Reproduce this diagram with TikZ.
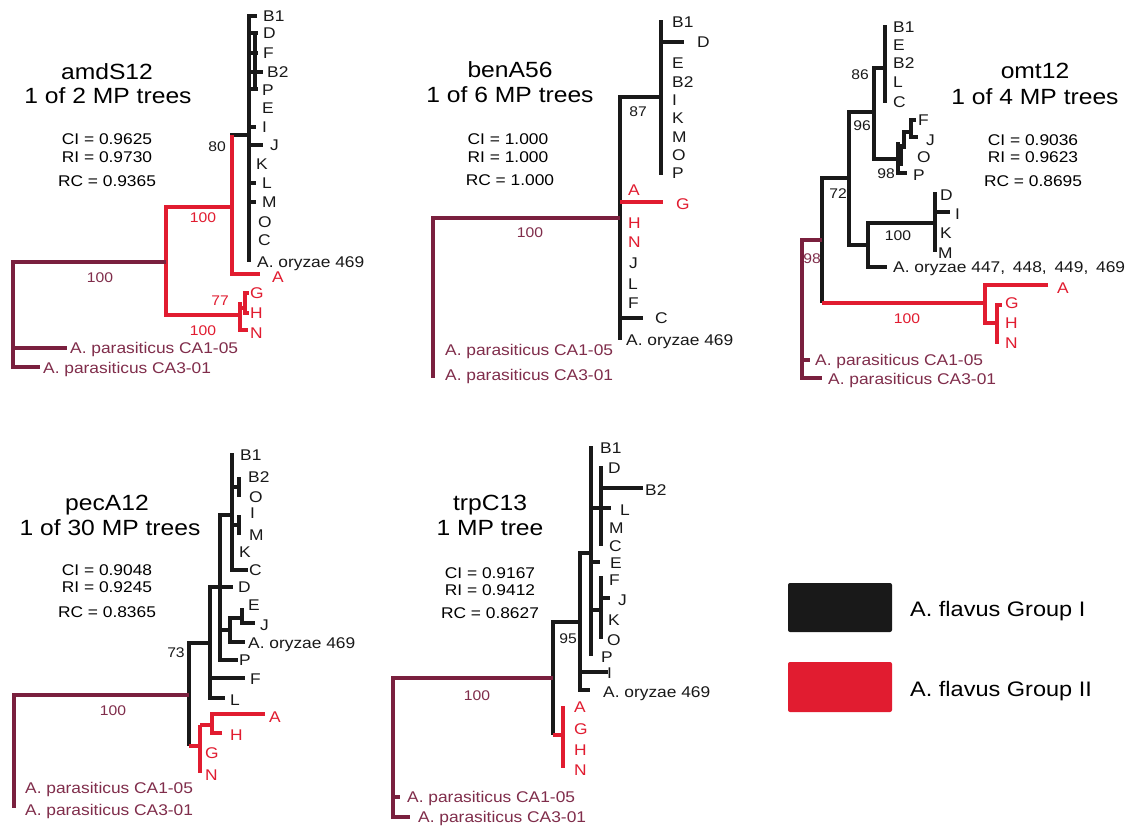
\documentclass[tikz,border=0pt]{standalone}
\usepackage{fontspec}
\setmainfont{Liberation Sans}[FakeStretch=1.12]
\definecolor{tb}{RGB}{25,25,25}
\definecolor{gr}{RGB}{225,28,48}
\definecolor{mr}{RGB}{122,32,62}
\definecolor{mrt}{RGB}{128,45,75}
\newcommand\leafsz{\fontsize{15.5}{18}\selectfont}
\newcommand\bootsz{\fontsize{14}{16}\selectfont}
\newcommand\titlesz{\fontsize{22}{26}\selectfont}
\newcommand\legsz{\fontsize{21}{25}\selectfont}
\tikzset{
 bk/.style={draw=tb,line width=4pt},
 rd/.style={draw=gr,line width=4pt},
 mo/.style={draw=mr,line width=4.5pt},
 lf/.style={anchor=west,inner sep=0pt,text height=11pt,text depth=0pt,font=\leafsz,text=tb},
 lr/.style={lf,text=gr},
 lm/.style={lf,text=mrt},
 bs/.style={inner sep=0pt,text height=10pt,text depth=0pt,font=\bootsz,text=tb},
 bsr/.style={bs,text=gr},
 bsm/.style={bs,text=mrt},
 ttl/.style={inner sep=0pt,text height=15.8pt,text depth=0pt,font=\titlesz,text=black},
 st/.style={inner sep=0pt,text height=11pt,text depth=0pt,font=\leafsz,text=black},
 leg/.style={anchor=west,inner sep=0pt,text height=15pt,text depth=0pt,font=\legsz,text=black},
}
\begin{document}
\begin{tikzpicture}[x=1pt,y=-1pt,line join=miter]
\fill[white] (0,0) rectangle (1127,825);
\useasboundingbox (0,0) rectangle (1127,825);

% ================= Tree 1: amdS12 =================
\node[ttl] (t1t) at (107,72) {amdS12};
\node[ttl] (t1s) at (108,96) {1 of 2 MP trees};
\node[st] (t1ci) at (107,139) {CI = 0.9625};
\node[st] (t1ri) at (107,157) {RI = 0.9730};
\node[st] (t1rc) at (107,181) {RC = 0.9365};
\draw[bk] (257,16) -- (249,16) -- (249,262);
\draw[bk] (255,31) -- (255,90);
\draw[bk] (249,33) -- (258,33) (249,53) -- (258,53) (249,72) -- (263,72) (249,89) -- (258,89);
\draw[bk] (249,127) -- (256,127) (249,145) -- (263,145) (249,183) -- (256,183) (249,202) -- (256,202);
\draw[bk] (249,135) -- (230,135);
\draw[rd] (232,135) -- (232,274) -- (260,274);
\draw[rd] (232,207) -- (166,207) -- (166,315) -- (240,315);
\draw[rd] (240,302) -- (240,330) -- (248,330);
\draw[rd] (240,308) -- (245,308);
\draw[rd] (245,291) -- (245,315);
\draw[rd] (245,293) -- (249,293) (245,313) -- (249,313);
\draw[mo] (166,262) -- (13,262) -- (13,367) -- (40,367);
\draw[mo] (13,348) -- (67,348);
\node[lf] (t1B1) at (263,16) {B1};
\node[lf] (t1D) at (263,33) {D};
\node[lf] (t1F) at (263,53) {F};
\node[lf] (t1B2) at (267,72) {B2};
\node[lf] (t1P) at (262,90) {P};
\node[lf] (t1E) at (262,108) {E};
\node[lf] (t1I) at (262,127) {I};
\node[lf] (t1J) at (270,145) {J};
\node[lf] (t1K) at (256,164) {K};
\node[lf] (t1L) at (262,183) {L};
\node[lf] (t1M) at (262,202) {M};
\node[lf] (t1O) at (258,222) {O};
\node[lf] (t1C) at (258,240) {C};
\node[lf] (t1ory) at (257,262) {A. oryzae 469};
\node[lr] (t1A) at (272,277) {A};
\node[lr] (t1G) at (250,293) {G};
\node[lr] (t1H) at (250,313) {H};
\node[lr] (t1N) at (250,333) {N};
\node[lm] (t1p1) at (70,348) {A. parasiticus CA1-05};
\node[lm] (t1p3) at (43,368) {A. parasiticus CA3-01};
\node[bs] (t1b80) at (217,146) {80};
\node[bsr] (t1b100a) at (203,217) {100};
\node[bsr] (t1b77) at (220,300) {77};
\node[bsr] (t1b100b) at (203,330) {100};
\node[bsm] (t1b100c) at (100,277) {100};

% ================= Tree 2: benA56 =================
\node[ttl] (t2t) at (510,70) {benA56};
\node[ttl] (t2s) at (510,95) {1 of 6 MP trees};
\node[st] (t2ci) at (508,139) {CI = 1.000};
\node[st] (t2ri) at (508,157) {RI = 1.000};
\node[st] (t2rc) at (510,180) {RC = 1.000};
\draw[bk] (661,20) -- (661,175);
\draw[bk] (661,42) -- (684,42);
\draw[bk] (661,97) -- (620,97) -- (620,340);
\draw[bk] (620,318) -- (643,318);
\draw[rd] (620,202) -- (663,202);
\draw[mo] (620,218) -- (433,218) -- (433,378);
\node[lf] (t2B1) at (672,22) {B1};
\node[lf] (t2D) at (697,42) {D};
\node[lf] (t2E) at (672,63) {E};
\node[lf] (t2B2) at (672,82) {B2};
\node[lf] (t2I) at (672,100) {I};
\node[lf] (t2K) at (672,118) {K};
\node[lf] (t2M) at (672,137) {M};
\node[lf] (t2O) at (672,155) {O};
\node[lf] (t2P) at (672,173) {P};
\node[lr] (t2A) at (628,190) {A};
\node[lr] (t2G) at (676,204) {G};
\node[lr] (t2H) at (628,223) {H};
\node[lr] (t2N) at (628,242) {N};
\node[lf] (t2J) at (629,263) {J};
\node[lf] (t2L) at (628,284) {L};
\node[lf] (t2F) at (628,303) {F};
\node[lf] (t2C) at (655,318) {C};
\node[lf] (t2ory) at (626,340) {A. oryzae 469};
\node[lm] (t2p1) at (445,350) {A. parasiticus CA1-05};
\node[lm] (t2p3) at (445,375) {A. parasiticus CA3-01};
\node[bs] (t2b87) at (638,111) {87};
\node[bsm] (t2b100) at (530,232) {100};

% ================= Tree 3: omt12 =================
\node[ttl] (t3t) at (1035,71) {omt12};
\node[ttl] (t3s) at (1035,97) {1 of 4 MP trees};
\node[st] (t3ci) at (1033,140) {CI = 0.9036};
\node[st] (t3ri) at (1033,157) {RI = 0.9623};
\node[st] (t3rc) at (1033,181) {RC = 0.8695};
\draw[bk] (885,25) -- (885,103);
\draw[bk] (885,68) -- (874,68) -- (874,159) -- (898,159);
\draw[bk] (898,142) -- (898,173) -- (907,173);
\draw[bk] (901,144) -- (901,166);
\draw[bk] (898,147) -- (904,147) -- (904,132) -- (911,132);
\draw[bk] (916,120) -- (911,120) -- (911,137) -- (918,137);
\draw[bk] (874,112) -- (849,112) -- (849,245) -- (868,245);
\draw[bk] (935,223) -- (868,223) -- (868,267) -- (887,267);
\draw[bk] (935,192) -- (935,252);
\draw[bk] (935,212) -- (950,212);
\draw[bk] (849,178) -- (822,178) -- (822,303);
\draw[rd] (822,303) -- (985,303);
\draw[rd] (1048,285) -- (985,285) -- (985,323) -- (997,323);
\draw[rd] (997,303) -- (997,344);
\draw[rd] (997,305) -- (1002,305);
\draw[mo] (822,240) -- (802,240) -- (802,378) -- (822,378);
\draw[mo] (802,360) -- (810,360);
\node[lf] (t3B1) at (893,27) {B1};
\node[lf] (t3E) at (893,45) {E};
\node[lf] (t3B2) at (893,63) {B2};
\node[lf] (t3L) at (893,82) {L};
\node[lf] (t3C) at (893,102) {C};
\node[lf] (t3F) at (918,120) {F};
\node[lf] (t3J) at (926,140) {J};
\node[lf] (t3O) at (917,157) {O};
\node[lf] (t3P) at (913,175) {P};
\node[lf] (t3D) at (940,195) {D};
\node[lf] (t3I) at (955,214) {I};
\node[lf] (t3K) at (940,233) {K};
\node[lf] (t3M) at (938,253) {M};
\node[lf] (t3ory) at (893,267) {A. oryzae 447,\hspace{3pt} 448,\hspace{3pt} 449,\hspace{3pt} 469};
\node[lr] (t3A) at (1057,288) {A};
\node[lr] (t3G) at (1005,303) {G};
\node[lr] (t3H) at (1005,323) {H};
\node[lr] (t3N) at (1005,343) {N};
\node[lm] (t3p1) at (815,360) {A. parasiticus CA1-05};
\node[lm] (t3p3) at (828,379) {A. parasiticus CA3-01};
\node[bs] (t3b86) at (860,74) {86};
\node[bs] (t3b96) at (862,125) {96};
\node[bs] (t3b98) at (886,173) {98};
\node[bs] (t3b72) at (838,193) {72};
\node[bs] (t3b100) at (898,235) {100};
\node[bsm] (t3b98m) at (812,258) {98};
\node[bsr] (t3b100r) at (907,318) {100};

% ================= Tree 4: pecA12 =================
\node[ttl] (t4t) at (107,503) {pecA12};
\node[ttl] (t4s) at (110,528) {1 of 30 MP trees};
\node[st] (t4ci) at (107,570) {CI = 0.9048};
\node[st] (t4ri) at (107,587) {RI = 0.9245};
\node[st] (t4rc) at (107,612) {RC = 0.8365};
\draw[bk] (232,453) -- (232,570) -- (248,570);
\draw[bk] (232,487) -- (239,487) (239,477) -- (239,497);
\draw[bk] (232,525) -- (239,525) (239,515) -- (239,535);
\draw[bk] (232,515) -- (220,515) -- (220,660) -- (238,660);
\draw[bk] (220,587) -- (233,587);
\draw[bk] (220,630) -- (230,630);
\draw[bk] (242,618) -- (230,618) -- (230,642) -- (245,642);
\draw[bk] (242,608) -- (242,623) -- (255,623);
\draw[bk] (220,587) -- (210,587) -- (210,698) -- (225,698);
\draw[bk] (210,678) -- (245,678);
\draw[bk] (210,643) -- (189,643) -- (189,746);
\draw[rd] (189,746) -- (200,746);
\draw[rd] (200,725) -- (200,773);
\draw[rd] (222,733) -- (212,733) -- (212,714) -- (265,714);
\draw[rd] (200,725) -- (212,725);
\draw[mo] (189,695) -- (14,695) -- (14,808);
\node[lf] (t4B1) at (240,455) {B1};
\node[lf] (t4B2) at (248,477) {B2};
\node[lf] (t4O) at (249,497) {O};
\node[lf] (t4I) at (250,513) {I};
\node[lf] (t4M) at (249,535) {M};
\node[lf] (t4K) at (239,552) {K};
\node[lf] (t4C) at (249,570) {C};
\node[lf] (t4D) at (238,587) {D};
\node[lf] (t4E) at (248,605) {E};
\node[lf] (t4J) at (260,625) {J};
\node[lf] (t4ory) at (248,643) {A. oryzae 469};
\node[lf] (t4P) at (239,660) {P};
\node[lf] (t4F) at (250,679) {F};
\node[lf] (t4L) at (230,700) {L};
\node[lr] (t4A) at (269,717) {A};
\node[lr] (t4H) at (230,735) {H};
\node[lr] (t4G) at (205,753) {G};
\node[lr] (t4N) at (205,775) {N};
\node[lm] (t4p1) at (25,788) {A. parasiticus CA1-05};
\node[lm] (t4p3) at (25,810) {A. parasiticus CA3-01};
\node[bs] (t4b73) at (176,652) {73};
\node[bsm] (t4b100) at (113,710) {100};

% ================= Tree 5: trpC13 =================
\node[ttl] (t5t) at (490,503) {trpC13};
\node[ttl] (t5s) at (490,528) {1 MP tree};
\node[st] (t5ci) at (490,573) {CI = 0.9167};
\node[st] (t5ri) at (490,590) {RI = 0.9412};
\node[st] (t5rc) at (490,613) {RC = 0.8627};
\draw[bk] (591,446) -- (591,656);
\draw[bk] (601,466) -- (601,546);
\draw[bk] (601,488) -- (643,488);
\draw[bk] (591,508) -- (611,508);
\draw[bk] (591,562) -- (600,562);
\draw[bk] (601,576) -- (601,639);
\draw[bk] (601,598) -- (610,598);
\draw[bk] (591,610) -- (601,610);
\draw[bk] (591,553) -- (580,553) -- (580,690) -- (590,690);
\draw[bk] (580,672) -- (608,672);
\draw[bk] (580,622) -- (553,622) -- (553,735);
\draw[rd] (553,735) -- (563,735);
\draw[rd] (563,706) -- (563,768);
\draw[mo] (553,678) -- (393,678) -- (393,817) -- (410,817);
\draw[mo] (393,797) -- (400,797);
\node[lf] (t5B1) at (600,448) {B1};
\node[lf] (t5D) at (608,468) {D};
\node[lf] (t5B2) at (645,490) {B2};
\node[lf] (t5L) at (620,510) {L};
\node[lf] (t5M) at (609,528) {M};
\node[lf] (t5C) at (609,546) {C};
\node[lf] (t5E) at (610,563) {E};
\node[lf] (t5F) at (609,580) {F};
\node[lf] (t5J) at (618,600) {J};
\node[lf] (t5K) at (608,620) {K};
\node[lf] (t5O) at (607,640) {O};
\node[lf] (t5P) at (601,657) {P};
\node[lf] (t5I) at (607,673) {I};
\node[lf] (t5ory) at (603,692) {A. oryzae 469};
\node[lr] (t5A) at (574,707) {A};
\node[lr] (t5G) at (574,729) {G};
\node[lr] (t5H) at (574,750) {H};
\node[lr] (t5N) at (574,770) {N};
\node[lm] (t5p1) at (407,797) {A. parasiticus CA1-05};
\node[lm] (t5p3) at (418,817) {A. parasiticus CA3-01};
\node[bs] (t5b95) at (568,638) {95};
\node[bsm] (t5b100) at (477,695) {100};

% ================= Legend =================
\fill[tb, rounded corners=2pt] (788,583) rectangle (892,632);
\fill[gr, rounded corners=2pt] (788,662) rectangle (892,712);
\node[leg] (lg1) at (910,609) {A. flavus Group I};
\node[leg] (lg2) at (910,689) {A. flavus Group II};
\end{tikzpicture}
\end{document}
